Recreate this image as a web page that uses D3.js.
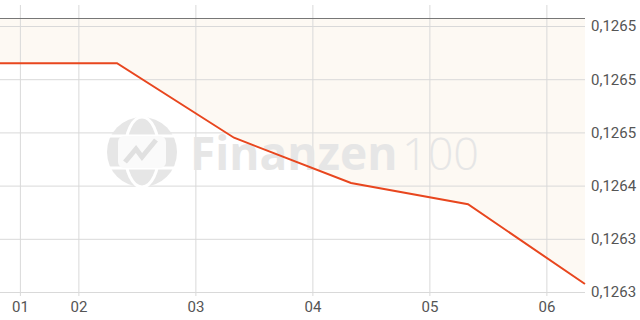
<!DOCTYPE html>
<html><head><meta charset="utf-8">
<script src="https://cdn.jsdelivr.net/npm/d3@7"></script>
<style>body{margin:0;background:#fff}svg{display:block}</style>
</head><body><div id="chart"></div>
<script>
// data (x in fractional day-of-month)
const xValues = [1.33, 2.33, 3.33, 4.33, 5.33, 6.33];
const yValues = [0.126506, 0.126506, 0.126478, 0.126461, 0.126453, 0.126423];
const xTickValues = [1.5, 2, 3, 4, 5, 6];
const xTickLabels = ["01", "02", "03", "04", "05", "06"];
const yTickValues = [0.12652, 0.12650, 0.12648, 0.12646, 0.12644, 0.12642];
const yTickLabels = ["0,1265", "0,1265", "0,1265", "0,1264", "0,1263", "0,1263"];

const W = 640, H = 320;
const mLeft = 0, mRight = 585, mTop = 18;
const svg = d3.select("#chart").append("svg").attr("width", W).attr("height", H);

const x = d3.scaleLinear().domain([xValues[0], xValues[xValues.length-1]]).range([mLeft, mRight]);
const y = d3.scaleLinear().domain([yTickValues[yTickValues.length-1], yTickValues[0]]).range([292, 26]);
const data = xValues.map((d, i) => ({x: d, y: yValues[i]}));

// area fill above line
svg.append("path").datum(data)
  .attr("d", d3.area().x(d => x(d.x)).y0(mTop).y1(d => y(d.y)))
  .attr("fill", "#fdf9f3");

// horizontal grid + y axis
const yAxis = d3.axisRight(y).tickValues(yTickValues)
  .tickFormat((d, i) => yTickLabels[i]).tickSize(mRight).tickPadding(6);
const gy = svg.append("g").attr("transform", `translate(${mLeft},0)`).call(yAxis);
gy.select(".domain").remove();
gy.selectAll("line").attr("stroke", "#d9d9d9");
gy.selectAll("text").attr("fill", "#555").attr("font-family", "Roboto").attr("font-size", 15);

// vertical grid + x axis
const xAxis = d3.axisBottom(x).tickValues(xTickValues)
  .tickFormat((d, i) => xTickLabels[i]).tickSize(292 - 5 + 4).tickPadding(5);
const gx = svg.append("g").attr("transform", "translate(0,5)").call(xAxis);
gx.select(".domain").remove();
gx.selectAll("line").attr("stroke", "#d9d9d9");
gx.selectAll("text").attr("fill", "#555").attr("font-family", "Roboto").attr("font-size", 15);

// top dark line
svg.append("line").attr("x1", mLeft).attr("x2", mRight).attr("y1", mTop + 0.5).attr("y2", mTop + 0.5)
  .attr("stroke", "#777").attr("stroke-width", 1);

// watermark
const wm = svg.append("g");
const cx = 142, cy = 152, r = 35;
wm.append("circle").attr("cx", cx).attr("cy", cy).attr("r", r).attr("fill", "#e6e6e6");
wm.append("ellipse").attr("cx", cx).attr("cy", cy).attr("rx", 17).attr("ry", r).attr("fill", "none").attr("stroke", "#fff").attr("stroke-width", 3);
wm.append("line").attr("x1", cx - r).attr("x2", cx + r).attr("y1", cy - 16).attr("y2", cy - 16).attr("stroke", "#fff").attr("stroke-width", 3);
wm.append("line").attr("x1", cx - r).attr("x2", cx + r).attr("y1", cy + 16).attr("y2", cy + 16).attr("stroke", "#fff").attr("stroke-width", 3);
wm.append("rect").attr("x", cx - 24).attr("y", cy - 16).attr("width", 48).attr("height", 32).attr("rx", 6).attr("fill", "#fafafa");
wm.append("polyline").attr("points", `${cx-17},${cy+10} ${cx-6},${cy-3} ${cx},${cy+5} ${cx+14},${cy-12}`)
  .attr("fill", "none").attr("stroke", "#e0e0e0").attr("stroke-width", 5);
wm.append("text").attr("x", 190).attr("y", 170).attr("font-family", "Open Sans").attr("font-weight", 700)
  .attr("font-size", 46).attr("fill", "#e6e6e6").text("Finanzen");
wm.append("text").attr("x", 402).attr("y", 170).attr("font-family", "Open Sans").attr("font-weight", 300)
  .attr("font-size", 45).attr("fill", "#e6e6e6").text("100");

// line
svg.append("path").datum(data)
  .attr("d", d3.line().x(d => x(d.x)).y(d => y(d.y)))
  .attr("fill", "none").attr("stroke", "#e8461e").attr("stroke-width", 2);
</script></body></html>
